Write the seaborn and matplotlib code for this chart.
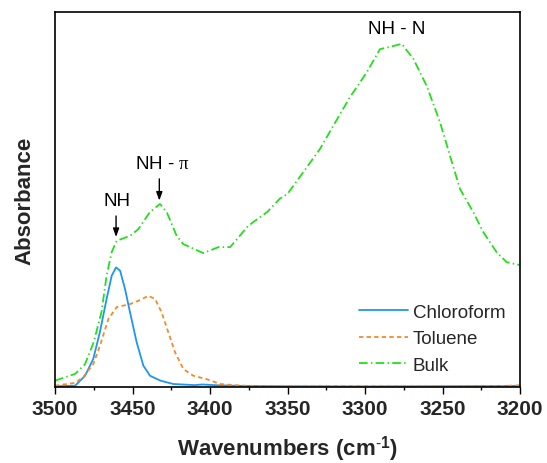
import numpy as np
import pandas as pd
import matplotlib
matplotlib.use("Agg")
import matplotlib.pyplot as plt
import seaborn as sns

# FTIR spectra in the N-H stretching region (arbitrary absorbance units)
chloroform_wn = [3500, 3487, 3480.6, 3475.3, 3471, 3466.7, 3463.4, 3460.6, 3458, 3454.8,
                 3451.6, 3447.3, 3443, 3438.7, 3432, 3423.7, 3410, 3405, 3395, 3380,
                 3350, 3300, 3250, 3200]
chloroform_abs = [0.002, 0.0035, 0.030, 0.075, 0.147, 0.235, 0.297, 0.319, 0.310, 0.261,
                  0.199, 0.119, 0.057, 0.030, 0.017, 0.008, 0.005, 0.0067, 0.0045, 0.003,
                  0.002, 0.0015, 0.002, 0.003]

toluene_wn = [3500, 3487, 3481.7, 3475.3, 3471, 3465.6, 3460.2, 3451.6, 3446.2, 3439.8,
              3435.5, 3431.2, 3426.9, 3422.6, 3417.2, 3410.8, 3402.2, 3393.5, 3385, 3370,
              3330, 3280, 3230, 3210, 3200]
toluene_abs = [0.0035, 0.011, 0.027, 0.061, 0.110, 0.181, 0.213, 0.221, 0.230, 0.243,
               0.235, 0.199, 0.146, 0.093, 0.048, 0.030, 0.021, 0.008, 0.005, 0.002,
               0.003, 0.002, 0.002, 0.003, 0.0045]

bulk_wn = [3500, 3487, 3480.6, 3475, 3470, 3466.7, 3463.4, 3460.2, 3451.6, 3446.2,
           3438.7, 3432.3, 3428, 3421.5, 3417.2, 3404.3, 3394.6, 3387, 3375.3, 3363,
           3355, 3350, 3339.8, 3329, 3320.4, 3309.7, 3298.9, 3290.3, 3283.9, 3276.3,
           3268.8, 3260.2, 3251.6, 3245.2, 3238.7, 3230.1, 3223.7, 3215, 3208.6, 3200]
bulk_abs = [0.017, 0.035, 0.061, 0.120, 0.200, 0.297, 0.360, 0.390, 0.403, 0.421,
            0.467, 0.488, 0.467, 0.403, 0.381, 0.357, 0.373, 0.373, 0.430, 0.467,
            0.502, 0.515, 0.573, 0.635, 0.697, 0.773, 0.839, 0.901, 0.907, 0.915,
            0.875, 0.803, 0.706, 0.617, 0.528, 0.466, 0.413, 0.359, 0.333, 0.325]

series_names = ["Chloroform", "Toluene", "Bulk"]
series_colors = ["#1E96F0", "#F58A2A", "#22E01A"]
x_ticks = [3500, 3450, 3400, 3350, 3300, 3250, 3200]

# Band assignments: (label, text position, arrow tip or None)
band_labels = ["NH", "NH - $\\mathit{\\pi}$", "NH - N"]
band_text_wn = [3460.2, 3430.6, 3279.6]
band_text_abs = [0.497, 0.595, 0.955]
band_arrow_wn = [3460.6, 3432.7, None]
band_arrow_top = [0.456, 0.555, None]
band_arrow_tip = [0.400, 0.497, None]

sns.set_style("white")
plt.rcParams["font.family"] = ["Liberation Sans", "DejaVu Sans"]
plt.rcParams["mathtext.fontset"] = "custom"
plt.rcParams["mathtext.rm"] = "Liberation Sans"
plt.rcParams["mathtext.bf"] = "Liberation Sans:bold"
plt.rcParams["mathtext.it"] = "Liberation Serif"

fig = plt.figure(figsize=(5.47, 4.64), dpi=100)
ax = fig.add_axes([55 / 547, 1 - 388 / 464, 465 / 547, 375 / 464])

frames = [
    pd.DataFrame({"wn": chloroform_wn, "abs": chloroform_abs}),
    pd.DataFrame({"wn": toluene_wn, "abs": toluene_abs}),
    pd.DataFrame({"wn": bulk_wn, "abs": bulk_abs}),
]
dash_styles = [(None, None), (2.4, 1.8), (4.8, 1.8, 0.8, 1.8)]

for df, name, col, ds in zip(frames, series_names, series_colors, dash_styles):
    kw = {}
    if ds[0] is not None:
        kw["dashes"] = ds
    sns.lineplot(data=df, x="wn", y="abs", ax=ax, color=col, lw=1.3,
                 label=name, estimator=None, sort=False, **kw)

ax.set_xlim(3500, 3200)
ax.set_ylim(0, 1.0)
ax.set_xticks(x_ticks)
ax.set_xticks(np.arange(3500, 3199, -25), minor=True)
ax.set_yticks([])
ax.tick_params(axis="x", which="major", direction="out", length=5, width=1.0,
               bottom=True, labelsize=15, pad=3.5, color="black")
ax.tick_params(axis="x", which="minor", direction="out", length=2.5, width=1.0,
               bottom=True, color="black")
for lab in ax.get_xticklabels():
    lab.set_fontweight("bold")

for sp in ax.spines.values():
    sp.set_color("black")
    sp.set_linewidth(1.2)

ax.set_xlabel("Wavenumbers (cm$^{\\mathbf{\\text{-}1}}$)", fontsize=16,
              fontweight="bold", labelpad=11)
ax.set_ylabel("Absorbance", fontsize=16, fontweight="bold", labelpad=14)

for lbl, tx, ty, awn, atop, atip in zip(band_labels, band_text_wn, band_text_abs,
                                        band_arrow_wn, band_arrow_top, band_arrow_tip):
    ax.text(tx, ty, lbl, fontsize=13.5, ha="center", va="center", color="black")
    if awn is not None:
        ax.annotate("", xy=(awn, atip), xytext=(awn, atop),
                    arrowprops=dict(arrowstyle="-|>,head_length=0.5,head_width=0.18",
                                    color="black", lw=1.0, shrinkA=0, shrinkB=0))

leg = ax.legend(loc="upper left", bbox_to_anchor=(0.654, 0.222), frameon=False,
                fontsize=13.5, handlelength=2.6, handletextpad=0.25,
                labelspacing=0.5, borderpad=0, borderaxespad=0)

fig.savefig("out.png", dpi=100)
